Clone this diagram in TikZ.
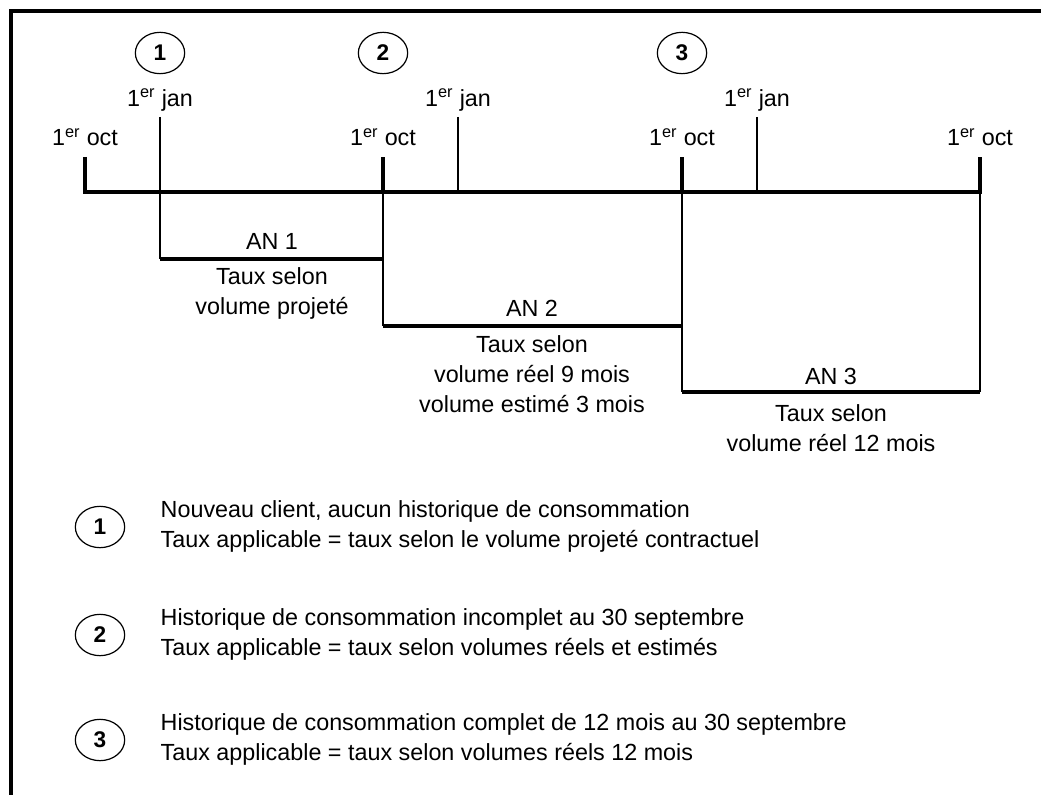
\documentclass[tikz,border=0pt]{standalone}
\usepackage{fontspec}
\setmainfont{Liberation Sans}
\usetikzlibrary{shapes.geometric}
\begin{document}
\begin{tikzpicture}[x=0.75pt,y=-0.75pt,
    every node/.style={font=\fontsize{17.5}{22.5}\selectfont},
    num/.style={draw,ellipse,line width=0.9pt,minimum width=37pt,minimum height=31pt,inner sep=0pt,font=\fontsize{17}{18}\selectfont\bfseries},
    lab/.style={align=center},
    axe/.style={line width=3.4pt},
    fin/.style={line width=0.8pt}]
    \useasboundingbox (0,0) rectangle (1041,795);

    % Cadre
    \draw[line width=2.4pt] (11,795) -- (11,11) -- (1041,11);

    % Axe du temps
    \coordinate (O1) at (85,192);
    \coordinate (O2) at (383,192);
    \coordinate (O3) at (682,192);
    \coordinate (O4) at (980,192);
    \coordinate (J1) at (160,192);
    \coordinate (J2) at (458,192);
    \coordinate (J3) at (757,192);
    \coordinate (P1) at (85,157);
    \coordinate (P2) at (383,157);
    \coordinate (P3) at (682,157);
    \coordinate (P4) at (980,157);
    \coordinate (K1) at (160,117);
    \coordinate (K2) at (458,117);
    \coordinate (K3) at (757,117);

    \draw[axe] (P1) -- (O1) -- (O4) -- (P4);
    \draw[axe] (O2) -- (P2);
    \draw[axe] (O3) -- (P3);
    \draw[fin] (K2) -- (J2);
    \draw[fin] (K3) -- (J3);

    \foreach \i/\x in {1/85,2/383,3/682,4/980}
        \node (oct\i) at (\x,137) {1\textsuperscript{er} oct};
    \foreach \i/\x in {1/160,2/458,3/757}
        \node (jan\i) at (\x,100) {1\textsuperscript{er} jan};

    \node[num] (c1) at (160,53) {1};
    \node[num] (c2) at (383,53) {2};
    \node[num] (c3) at (682,53) {3};

    % AN 1
    \coordinate (A1) at (160,259);
    \coordinate (B1) at (383,259);
    \draw[fin] (K1) -- (A1);
    \draw[axe] (A1) -- (B1);
    \node (an1) at (272,241) {AN 1};
    \node[lab] (tx1) at (272,293) {Taux selon\\volume projeté};

    % AN 2
    \coordinate (A2) at (383,326);
    \coordinate (B2) at (682,326);
    \draw[fin] (O2) -- (A2);
    \draw[axe] (A2) -- (B2);
    \node (an2) at (532,308) {AN 2};
    \node[lab] (tx2) at (532,374) {Taux selon\\volume réel 9 mois\\volume estimé 3 mois};

    % AN 3
    \coordinate (A3) at (682,392);
    \coordinate (B3) at (980,392);
    \draw[fin] (O3) -- (A3);
    \draw[fin] (O4) -- (B3);
    \draw[axe] (A3) -- (B3);
    \node (an3) at (831,376) {AN 3};
    \node[lab] (tx3) at (831,428) {Taux selon\\volume réel 12 mois};

    % Légende
    \node[num] (n1) at (100,527) {1};
    \node[num] (n2) at (100,635) {2};
    \node[num] (n3) at (100,740) {3};
    \node[anchor=west,align=left] (t1) at (156,526) {Nouveau client, aucun historique de consommation\\Taux applicable = taux selon le volume projeté contractuel};
    \node[anchor=west,align=left] (t2) at (156,634) {Historique de consommation incomplet au 30 septembre\\Taux applicable = taux selon volumes réels et estimés};
    \node[anchor=west,align=left] (t3) at (156,739) {Historique de consommation complet de 12 mois au 30 septembre\\Taux applicable = taux selon volumes réels 12 mois};
\end{tikzpicture}
\end{document}
